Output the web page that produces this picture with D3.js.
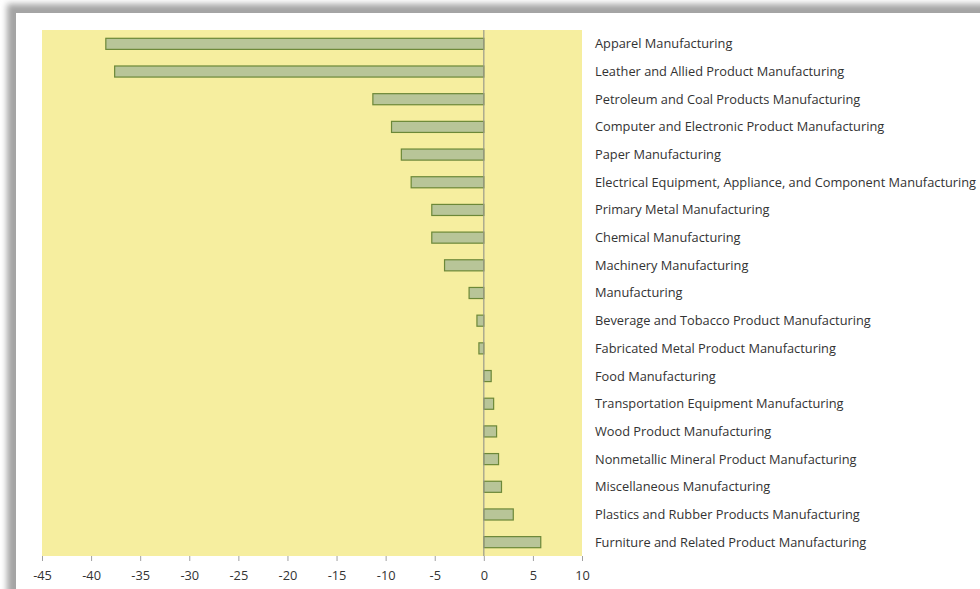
<!DOCTYPE html>
<html>
<head>
<meta charset="utf-8">
<script src="https://cdn.jsdelivr.net/npm/d3@7"></script>
<style>
  html, body { margin: 0; padding: 0; background: #ffffff; }
  svg { display: block; }
</style>
</head>
<body>
<svg id="chart" width="980" height="589"></svg>
<script>
// Industries, ordered top to bottom
const categories = [
  "Apparel Manufacturing",
  "Leather and Allied Product Manufacturing",
  "Petroleum and Coal Products Manufacturing",
  "Computer and Electronic Product Manufacturing",
  "Paper Manufacturing",
  "Electrical Equipment, Appliance, and Component Manufacturing",
  "Primary Metal Manufacturing",
  "Chemical Manufacturing",
  "Machinery Manufacturing",
  "Manufacturing",
  "Beverage and Tobacco Product Manufacturing",
  "Fabricated Metal Product Manufacturing",
  "Food Manufacturing",
  "Transportation Equipment Manufacturing",
  "Wood Product Manufacturing",
  "Nonmetallic Mineral Product Manufacturing",
  "Miscellaneous Manufacturing",
  "Plastics and Rubber Products Manufacturing",
  "Furniture and Related Product Manufacturing"
];

// Percent change per industry
const values = [
  -38.5, -37.6, -11.3, -9.4, -8.4, -7.4, -5.3, -5.3, -4.0, -1.5,
  -0.7, -0.5, 0.75, 1.0, 1.3, 1.5, 1.8, 3.0, 5.8
];

const xTicks = [-45, -40, -35, -30, -25, -20, -15, -10, -5, 0, 5, 10];

const svg = d3.select("#chart");
const font = "'Open Sans', 'Noto Sans', sans-serif";
const fontSize = 12.8;

// Card with a soft shadow on its top and left edges
const defs = svg.append("defs");
defs.append("filter").attr("id", "soft")
  .attr("x", "-10%").attr("y", "-10%").attr("width", "120%").attr("height", "120%")
  .append("feGaussianBlur").attr("stdDeviation", 3);

svg.append("rect")
  .attr("x", 7).attr("y", 4).attr("width", 1100).attr("height", 700)
  .attr("fill", "#a4a4a4").attr("filter", "url(#soft)");
svg.append("rect")
  .attr("x", 16).attr("y", 13).attr("width", 1000).attr("height", 700)
  .attr("fill", "#ffffff");

const plot = { left: 42, right: 582, top: 30, bottom: 556 };

const x = d3.scaleLinear().domain([-45, 10]).range([plot.left, plot.right]);
const y = d3.scaleBand().domain(categories).range([plot.top, plot.bottom]).paddingInner(0.6).paddingOuter(0.3);

// Plot background
svg.append("rect")
  .attr("x", plot.left).attr("y", plot.top)
  .attr("width", plot.right - plot.left).attr("height", plot.bottom - plot.top)
  .attr("fill", "#f6ee9f");

// Bars
svg.append("g").selectAll("rect")
  .data(categories)
  .join("rect")
  .attr("x", (d, i) => x(Math.min(0, values[i])))
  .attr("y", d => y(d))
  .attr("width", (d, i) => Math.abs(x(values[i]) - x(0)))
  .attr("height", y.bandwidth())
  .attr("fill", "#b8c598")
  .attr("stroke", "#6c8838")
  .attr("stroke-width", 1.2);

// Zero line
svg.append("line")
  .attr("x1", x(0)).attr("x2", x(0))
  .attr("y1", plot.top).attr("y2", plot.bottom)
  .attr("stroke", "#9a9a8a").attr("stroke-width", 1.2);

// Category labels to the right of the plot
svg.append("g").selectAll("text")
  .data(categories)
  .join("text")
  .attr("x", 595)
  .attr("y", d => y(d) + y.bandwidth() / 2)
  .attr("dy", "0.35em")
  .attr("font-family", font)
  .attr("font-size", fontSize)
  .attr("fill", "#333333")
  .text(d => d);

// Value axis
const xAxis = d3.axisBottom(x)
  .tickValues(xTicks)
  .tickFormat(d => String(d))
  .tickSize(5).tickSizeOuter(0).tickPadding(10);
const gx = svg.append("g")
  .attr("transform", `translate(0,${plot.bottom})`)
  .call(xAxis);
gx.select(".domain").remove();
gx.selectAll(".tick line").attr("stroke", "#a0a0a0");
gx.selectAll(".tick text")
  .attr("font-family", font)
  .attr("font-size", fontSize)
  .attr("fill", "#333333");
</script>
</body>
</html>
